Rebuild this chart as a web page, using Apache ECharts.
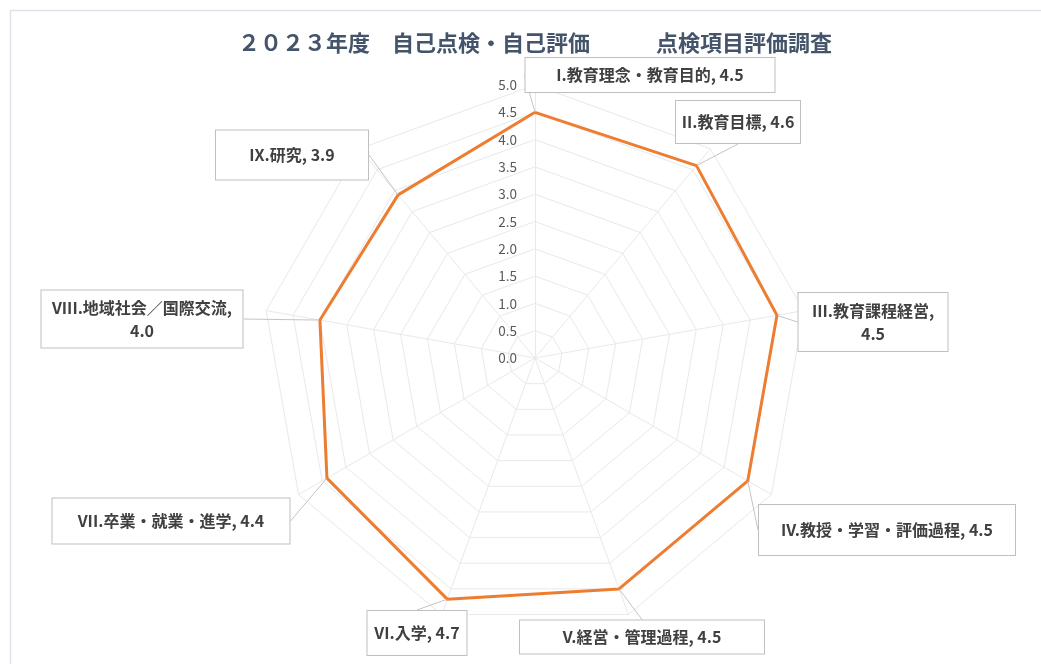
<!DOCTYPE html>
<html>
<head>
<meta charset="utf-8">
<script src="https://cdn.jsdelivr.net/npm/echarts@6/dist/echarts.min.js"></script>
<style>
html,body{margin:0;padding:0;background:#fff;}
#chart{width:1041px;height:664px;}
</style>
</head>
<body>
<div id="chart"></div>
<script>
// ---- data (clockwise from top, as in the reference) ----
const categories = ['I.教育理念・教育目的', 'II.教育目標', 'III.教育課程経営', 'IV.教授・学習・評価過程',
  'V.経営・管理過程', 'VI.入学', 'VII.卒業・就業・進学', 'VIII.地域社会／国際交流', 'IX.研究'];
const values = [4.5, 4.6, 4.5, 4.5, 4.5, 4.7, 4.4, 4.0, 3.9];
const ticks = [0.0, 0.5, 1.0, 1.5, 2.0, 2.5, 3.0, 3.5, 4.0, 4.5, 5.0];
const titleText = '２０２３年度　自己点検・自己評価　　　点検項目評価調査';
const seriesName = '評価';

// ---- layout ----
// ECharts radar runs counter-clockwise; reorder so the picture runs clockwise
const order = [0, 8, 7, 6, 5, 4, 3, 2, 1];
const wrapLabel = {2: true, 7: true};
// callout boxes: centre x, centre y, width, height
const boxes = {
  0: [650, 75, 249, 34],
  1: [738, 122, 124, 42],
  2: [873, 322, 149, 58],
  3: [887, 530, 256, 50],
  4: [642, 637, 244, 33],
  5: [417, 633, 99, 44],
  6: [171, 521, 237, 45],
  7: [142, 319, 201, 57],
  8: [292, 155, 152, 49]
};
function labelText(i) {
  return categories[i] + (wrapLabel[i] ? ',\n' : ', ') + values[i].toFixed(1);
}
const textToBox = {};
categories.forEach((c, i) => { textToBox[labelText(i)] = boxes[i]; });

const chart = echarts.init(document.getElementById('chart'), null, {renderer: 'canvas'});
const FONT = '"Noto Sans CJK JP", "Noto Sans", sans-serif';

const option = {
  backgroundColor: '#ffffff',
  animation: false,
  title: {
    text: titleText,
    left: 233,
    top: 27,
    textStyle: {color: '#44546A', fontSize: 22, fontWeight: 'bold', fontFamily: FONT}
  },
  graphic: [{
    type: 'rect', silent: true, z: -1,
    shape: {x: 10.5, y: 10.5, width: 1100, height: 700},
    style: {fill: 'none', stroke: '#dfe2ea', lineWidth: 1.5}
  }],
  radar: {
    center: [535, 358],
    radius: 273,
    startAngle: 90,
    shape: 'polygon',
    splitNumber: ticks.length - 1,
    indicator: order.map((i, k) => ({
      name: categories[i],
      min: ticks[0],
      max: ticks[ticks.length - 1],
      axisLabel: {show: k === 0}
    })),
    axisName: {show: false},
    splitLine: {lineStyle: {color: '#e8e9ee', width: 1}},
    splitArea: {show: false},
    axisLine: {lineStyle: {color: '#e8e9ee', width: 1}},
    axisTick: {show: false},
    axisLabel: {
      color: '#595959', fontSize: 13.5, fontFamily: FONT, margin: 18,
      formatter: v => Number(v).toFixed(1)
    }
  },
  series: [{
    type: 'radar',
    name: seriesName,
    silent: true,
    symbol: 'circle',
    symbolSize: 1,
    lineStyle: {color: '#ED7D31', width: 3},
    itemStyle: {color: '#ED7D31'},
    emphasis: {disabled: true},
    data: [{name: seriesName, value: order.map(i => values[i])}],
    label: {
      show: true,
      formatter: p => labelText(order[p.dimensionIndex]),
      color: '#404040',
      fontSize: 16,
      fontWeight: 'bold',
      fontFamily: FONT,
      lineHeight: 23,
      backgroundColor: '#ffffff',
      borderColor: '#bfbfbf',
      borderWidth: 1,
      padding: 0
    },
    labelLine: {show: true, lineStyle: {color: '#c4c4c4', width: 1}},
    labelLayout: p => {
      const b = textToBox[p.text];
      if (!b) return {};
      return {x: b[0], y: b[1], width: b[2], height: b[3], align: 'center', verticalAlign: 'middle'};
    }
  }]
};
chart.setOption(option);
</script>
</body>
</html>
